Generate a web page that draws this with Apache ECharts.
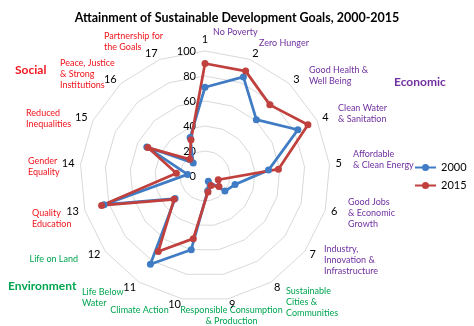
<!DOCTYPE html>
<html>
<head>
<meta charset="utf-8">
<style>
  html, body { margin: 0; padding: 0; background: #fff; }
  #chart { width: 474px; height: 326px; }
</style>
<script src="https://cdn.jsdelivr.net/npm/echarts@6/dist/echarts.min.js"></script>
</head>
<body>
<div id="chart"></div>
<script>
// goals, clockwise from the top
var goalNums = ['1', '2', '3', '4', '5', '6', '7', '8', '9', '10', '11', '12', '13', '14', '15', '16', '17'];
var goalNames = [
    'No Poverty', 'Zero Hunger', 'Good Health &\nWell Being', 'Clean Water\n& Sanitation',
    'Affordable\n& Clean Energy', 'Good Jobs\n& Economic\nGrowth', 'Industry,\nInnovation &\nInfrastructure',
    'Sustainable\nCities &\nCommunities', 'Responsible Consumption\n& Production', 'Climate Action',
    'Life Below\nWater', 'Life on Land', 'Quality\nEducation', 'Gender\nEquality',
    'Reduced\nInequalities', 'Peace, Justice\n& Strong\nInstitutions', 'Partnership for\nthe Goals'
];
var goalGroup = ['eco', 'eco', 'eco', 'eco', 'eco', 'eco', 'eco', 'env', 'env', 'env', 'env', 'env', 'soc', 'soc', 'soc', 'soc', 'soc'];
var groupNames = { soc: 'Social', eco: 'Economic', env: 'Environment' };
var years = ['2000', '2015'];
var values2000 = [71, 85, 61, 83, 51, 25, 20, 5, 12, 60, 83, 30, 84, 14, 52, 14, 33];
var values2015 = [90, 90, 77, 92, 59, 11, 14, 9, 13, 51, 71, 31, 86, 23, 51, 18, 31];
var radialTicks = [0, 20, 40, 60, 80, 100];

// layout / styling
var groupColor = { soc: '#f0141c', eco: '#7030a0', env: '#00a550' };
var seriesColor = ['#3f7cc4', '#c0403d'];
// [x, y, align] of each goal name
var goalLabelPos = [
    [213, 32, 'left'], [259, 43, 'left'], [309, 75.5, 'left'], [338, 114, 'left'],
    [353, 159.5, 'left'], [348, 213, 'left'], [324, 260.5, 'left'], [286, 302.5, 'left'],
    [231.5, 316, 'center'], [139.5, 310, 'center'], [82, 297.5, 'left'], [78, 259, 'right'],
    [32, 219, 'left'], [28, 167, 'left'], [26, 118.5, 'left'], [60, 74.5, 'left'], [104, 41.5, 'left']
];
var groupLabelPos = { soc: [15, 70], eco: [394, 82], env: [8, 286] };
var FONT = 'Lato, "Liberation Sans", sans-serif';

// echarts radar runs counter-clockwise, so feed it 1, 17, 16 ... 2
var order = [0];
for (var k = goalNums.length - 1; k >= 1; k--) order.push(k);

var indicator = order.map(function (i) {
    return {
        name: goalNums[i],
        min: radialTicks[0],
        max: radialTicks[radialTicks.length - 1]
    };
});
// tick labels only on the first (vertical) axis
indicator[0].axisLabel = {
    show: true,
    color: '#000',
    fontSize: 11,
    fontFamily: FONT,
    margin: 9
};

var graphics = [];
goalNames.forEach(function (txt, i) {
    var p = goalLabelPos[i];
    graphics.push({
        type: 'text',
        x: p[0],
        y: p[1],
        silent: true,
        style: {
            text: txt,
            fill: groupColor[goalGroup[i]],
            font: '9px ' + FONT,
            align: p[2],
            verticalAlign: 'middle',
            lineHeight: 11
        }
    });
});
Object.keys(groupNames).forEach(function (g) {
    graphics.push({
        type: 'text',
        x: groupLabelPos[g][0],
        y: groupLabelPos[g][1],
        silent: true,
        style: {
            text: groupNames[g],
            fill: groupColor[g],
            font: 'bold 12px ' + FONT,
            align: 'left',
            verticalAlign: 'middle'
        }
    });
});

var legendIcon = 'path://M0,2.5H21V4.5H0Z M7,3.5A3.5,3.5 0 1 1 14,3.5A3.5,3.5 0 1 1 7,3.5Z';

var myChart = echarts.init(document.getElementById('chart'));
var option = {
    backgroundColor: '#fff',
    animation: false,
    color: seriesColor,
    title: {
        text: 'Attainment of Sustainable Development Goals, 2000-2015',
        left: 'center',
        top: 6,
        textStyle: {
            fontFamily: FONT,
            fontSize: 12.5,
            fontWeight: 'bold',
            color: '#000'
        }
    },
    legend: {
        orient: 'vertical',
        left: 410,
        top: 157,
        itemWidth: 21,
        itemHeight: 7,
        itemGap: 7,
        icon: legendIcon,
        data: years,
        textStyle: {
            fontFamily: FONT,
            fontSize: 11,
            color: '#000'
        }
    },
    radar: {
        center: [205, 176],
        radius: 125,
        startAngle: 90,
        shape: 'polygon',
        splitNumber: radialTicks.length - 1,
        indicator: indicator,
        nameGap: 6,
        axisName: {
            color: '#000',
            fontSize: 11,
            fontFamily: FONT
        },
        axisLine: { show: false },
        axisTick: { show: false },
        axisLabel: { show: false },
        splitArea: { show: false },
        splitLine: {
            lineStyle: { color: '#d9d9d9', width: 1 }
        }
    },
    series: [{
        type: 'radar',
        symbol: 'circle',
        symbolSize: 7,
        data: [
            {
                name: years[0],
                value: order.map(function (i) { return values2000[i]; }),
                itemStyle: { color: seriesColor[0] },
                lineStyle: { color: seriesColor[0], width: 2.75 }
            },
            {
                name: years[1],
                value: order.map(function (i) { return values2015[i]; }),
                itemStyle: { color: seriesColor[1] },
                lineStyle: { color: seriesColor[1], width: 2.75 }
            }
        ]
    }],
    graphic: graphics
};
myChart.setOption(option);
</script>
</body>
</html>
